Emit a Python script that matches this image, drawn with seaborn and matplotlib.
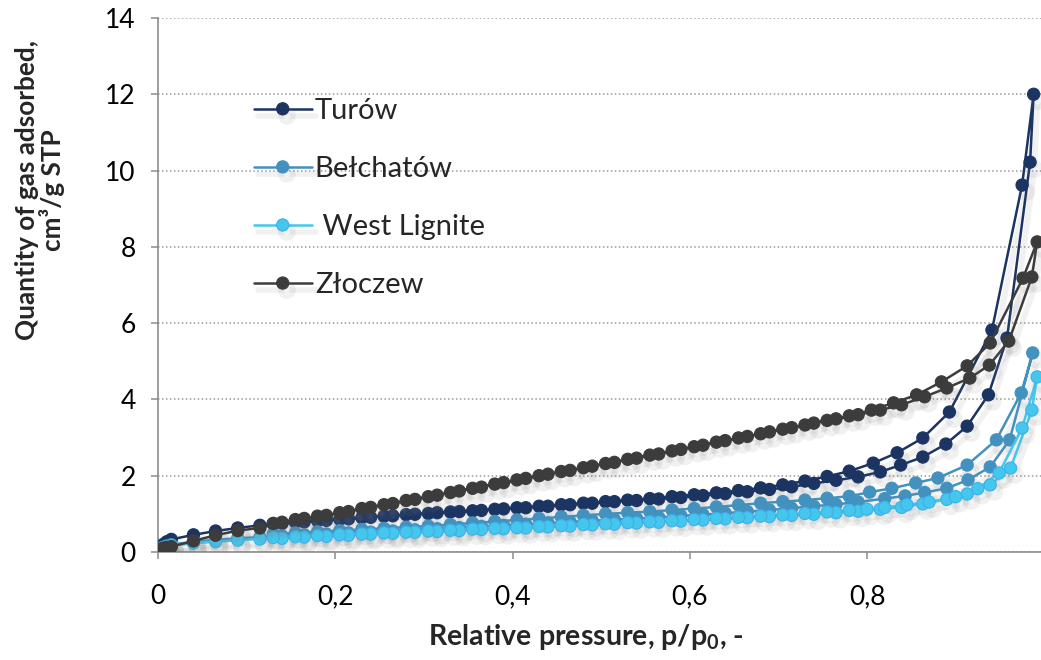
import matplotlib
matplotlib.use("Agg")
import matplotlib.pyplot as plt
import matplotlib.patheffects as pe
import seaborn as sns
import pandas as pd

# ---------------------------------------------------------------
# Nitrogen adsorption/desorption isotherms of four lignites
# ---------------------------------------------------------------

# relative pressure of the adsorption branch below the hysteresis loop
p_ads_low = [0.001, 0.003, 0.006, 0.010, 0.015, 0.040, 0.065, 0.090, 0.115, 0.140,
             0.165, 0.190, 0.215, 0.240, 0.265, 0.290, 0.315, 0.340, 0.365, 0.390,
             0.415, 0.440, 0.465, 0.490, 0.515, 0.540, 0.565, 0.590, 0.615, 0.640,
             0.665, 0.690, 0.715, 0.740, 0.765, 0.790]

# relative pressure of the desorption branch below the hysteresis loop
p_des_low = [0.780, 0.755, 0.730, 0.705, 0.680, 0.655, 0.630, 0.605, 0.580, 0.555,
             0.530, 0.505, 0.480, 0.455, 0.430, 0.405, 0.380, 0.355, 0.330, 0.305,
             0.280, 0.255, 0.230, 0.205, 0.180, 0.155, 0.130]

# --- Turów ---
turow_ads_low = [0.05, 0.12, 0.20, 0.27, 0.33, 0.45, 0.55, 0.63, 0.70, 0.75,
                 0.79, 0.83, 0.87, 0.91, 0.95, 0.99, 1.03, 1.06, 1.09, 1.13,
                 1.16, 1.20, 1.24, 1.28, 1.32, 1.35, 1.39, 1.43, 1.48, 1.53,
                 1.58, 1.64, 1.71, 1.80, 1.88, 1.97]
turow_loop_p = [0.815, 0.838, 0.863, 0.889, 0.913, 0.937, 0.958, 0.984, 0.988,
                0.975, 0.941, 0.893, 0.863, 0.834, 0.807]
turow_loop_q = [2.10, 2.28, 2.49, 2.83, 3.30, 4.12, 5.61, 10.22, 12.00,
                9.62, 5.82, 3.67, 2.99, 2.60, 2.33]
turow_des_low = [2.12, 1.98, 1.86, 1.76, 1.68, 1.61, 1.55, 1.50, 1.45, 1.40,
                 1.36, 1.32, 1.28, 1.24, 1.20, 1.16, 1.12, 1.08, 1.05, 1.01,
                 0.98, 0.94, 0.90, 0.86, 0.82, 0.78, 0.74]

# --- Bełchatów ---
belchatow_ads_low = [0.04, 0.09, 0.13, 0.16, 0.19, 0.27, 0.32, 0.36, 0.39, 0.42,
                     0.45, 0.47, 0.50, 0.52, 0.55, 0.58, 0.61, 0.64, 0.67, 0.70,
                     0.73, 0.76, 0.79, 0.82, 0.85, 0.88, 0.91, 0.95, 0.98, 1.02,
                     1.06, 1.10, 1.15, 1.20, 1.25, 1.31]
belchatow_loop_p = [0.820, 0.843, 0.865, 0.890, 0.914, 0.939, 0.961, 0.987,
                    0.974, 0.946, 0.913, 0.880, 0.855, 0.828, 0.803]
belchatow_loop_q = [1.40, 1.47, 1.56, 1.67, 1.89, 2.23, 2.94, 5.22,
                    4.17, 2.94, 2.28, 1.94, 1.81, 1.67, 1.57]
belchatow_des_low = [1.46, 1.41, 1.36, 1.32, 1.28, 1.23, 1.18, 1.14, 1.10, 1.06,
                     1.03, 1.00, 0.96, 0.92, 0.88, 0.84, 0.80, 0.76, 0.72, 0.68,
                     0.65, 0.62, 0.59, 0.56, 0.53, 0.50, 0.47]

# --- West Lignite ---
west_ads_low = [0.03, 0.07, 0.11, 0.14, 0.17, 0.23, 0.27, 0.31, 0.34, 0.36,
                0.39, 0.41, 0.44, 0.47, 0.49, 0.52, 0.54, 0.56, 0.59, 0.61,
                0.63, 0.66, 0.68, 0.71, 0.73, 0.76, 0.78, 0.81, 0.84, 0.87,
                0.90, 0.93, 0.96, 0.99, 1.03, 1.07]
west_loop_p = [0.815, 0.839, 0.863, 0.890, 0.913, 0.939, 0.962, 0.986, 0.992,
               0.975, 0.949, 0.925, 0.900, 0.870, 0.845, 0.820, 0.800]
west_loop_q = [1.12, 1.17, 1.26, 1.38, 1.52, 1.76, 2.20, 3.72, 4.59,
               3.25, 2.07, 1.66, 1.45, 1.31, 1.24, 1.17, 1.12]
west_des_low = [1.09, 1.05, 1.01, 0.97, 0.94, 0.91, 0.88, 0.85, 0.82, 0.79,
                0.77, 0.74, 0.72, 0.69, 0.67, 0.64, 0.62, 0.60, 0.57, 0.55,
                0.52, 0.50, 0.47, 0.45, 0.43, 0.40, 0.38]

# --- Złoczew ---
zloczew_ads_low = [0.03, 0.07, 0.10, 0.12, 0.14, 0.29, 0.44, 0.56, 0.63, 0.78,
                   0.88, 0.96, 1.06, 1.17, 1.27, 1.38, 1.49, 1.60, 1.70, 1.82,
                   1.93, 2.04, 2.14, 2.25, 2.35, 2.46, 2.57, 2.69, 2.80, 2.92,
                   3.03, 3.15, 3.26, 3.38, 3.49, 3.60]
zloczew_loop_p = [0.815, 0.839, 0.865, 0.890, 0.916, 0.938, 0.960, 0.986, 0.992,
                  0.976, 0.939, 0.913, 0.884, 0.856, 0.830, 0.805]
zloczew_loop_q = [3.72, 3.86, 4.07, 4.30, 4.56, 4.90, 5.53, 7.21, 8.13,
                  7.18, 5.48, 4.88, 4.46, 4.12, 3.91, 3.72]
zloczew_des_low = [3.57, 3.45, 3.33, 3.22, 3.10, 2.99, 2.88, 2.76, 2.65, 2.54,
                   2.43, 2.32, 2.21, 2.11, 2.00, 1.89, 1.78, 1.67, 1.56, 1.45,
                   1.35, 1.24, 1.14, 1.03, 0.94, 0.85, 0.75]

samples = ["Turów", "Bełchatów", " West Lignite", "Złoczew"]
colors = ["#1B3462", "#4391BF", "#45C6EC", "#3C3C3C"]
edge_colors = ["#1B3462", "#4391BF", "#3DB0EA", "#3C3C3C"]

y_ticks = [0, 2, 4, 6, 8, 10, 12, 14]
x_ticks = [0.0, 0.2, 0.4, 0.6, 0.8]
x_tick_labels = ["0", "0,2", "0,4", "0,6", "0,8"]

series = {
    "Turów": (turow_ads_low, turow_loop_p, turow_loop_q, turow_des_low),
    "Bełchatów": (belchatow_ads_low, belchatow_loop_p, belchatow_loop_q, belchatow_des_low),
    " West Lignite": (west_ads_low, west_loop_p, west_loop_q, west_des_low),
    "Złoczew": (zloczew_ads_low, zloczew_loop_p, zloczew_loop_q, zloczew_des_low),
}

# one continuous path per sample: adsorption up, then desorption back down
rows = []
for name in samples:
    ads_low, loop_p, loop_q, des_low = series[name]
    p = p_ads_low + loop_p + p_des_low
    q = ads_low + loop_q + des_low
    for i, (pp, qq) in enumerate(zip(p, q)):
        rows.append({"sample": name, "order": i, "p": pp, "q": qq})
df = pd.DataFrame(rows)

sns.set_theme(style="white")
plt.rcParams["font.family"] = ["Lato", "DejaVu Sans"]
plt.rcParams["mathtext.fontset"] = "custom"
plt.rcParams["mathtext.rm"] = "Lato"
plt.rcParams["mathtext.bf"] = "Lato:bold"

fig = plt.figure(figsize=(10.41, 6.60), dpi=100)
ax = fig.add_axes([158 / 1041, 108 / 660, (1041 - 158) / 1041, (552 - 18) / 660])

# soft drop shadow beneath the curves
shadow = [pe.SimpleLineShadow(offset=(3, -5), shadow_color="#7A7A7A", alpha=0.10,
                              linewidth=4),
          pe.Normal()]

for name, col, ecol in zip(samples, colors, edge_colors):
    sub = df[df["sample"] == name]
    sns.lineplot(data=sub, x="p", y="q", sort=False, estimator=None, ax=ax,
                 color=col, linewidth=1.8, marker="o", markersize=8.8,
                 markerfacecolor=col, markeredgecolor=ecol, markeredgewidth=0.8,
                 label=name, path_effects=shadow, zorder=3)

ax.set_xlim(0, (1041 - 158) / 886.25)
ax.set_ylim(0, 14)
ax.set_yticks(y_ticks)
ax.set_yticklabels([str(v) for v in y_ticks])
ax.set_xticks(x_ticks)
ax.set_xticklabels(x_tick_labels)

ax.yaxis.grid(True, linestyle=(0, (1.0, 1.6)), color="#9A9A9A", linewidth=1.1)
ax.xaxis.grid(False)
ax.set_axisbelow(True)

for side in ["top", "right"]:
    ax.spines[side].set_visible(False)
for side in ["left", "bottom"]:
    ax.spines[side].set_color("#8C8C8C")
    ax.spines[side].set_linewidth(1.2)

ax.tick_params(axis="y", which="major", direction="out", length=5, width=1.1,
               color="#8C8C8C", labelsize=19, pad=11, left=True, labelcolor="black")
ax.tick_params(axis="x", which="major", direction="out", length=5, width=1.1,
               color="#8C8C8C", labelsize=19, pad=18, bottom=True, labelcolor="black")

xl = ax.set_xlabel(r"Relative pressure, p/p$_\mathbf{0}$, -", fontsize=20.5,
                   fontweight="bold")
xl.set_verticalalignment("center")
ax.xaxis.set_label_coords((586 - 158) / 883, (552 - 637) / 534)

yl = ax.set_ylabel("Quantity of gas adsorbed,\ncm³/g STP", fontsize=18.8,
                   fontweight="bold", linespacing=1.0)
yl.set_verticalalignment("center")
ax.yaxis.set_label_coords((40 - 158) / 883, (552 - 190) / 534)

handles, labels = ax.get_legend_handles_labels()
leg = ax.legend(handles, labels, loc="upper left", bbox_to_anchor=(0.095, 0.872),
                frameon=False, fontsize=21, handlelength=2.0, handletextpad=0.1,
                labelspacing=1.1, borderaxespad=0)

fig.savefig("out.png", dpi=100)
